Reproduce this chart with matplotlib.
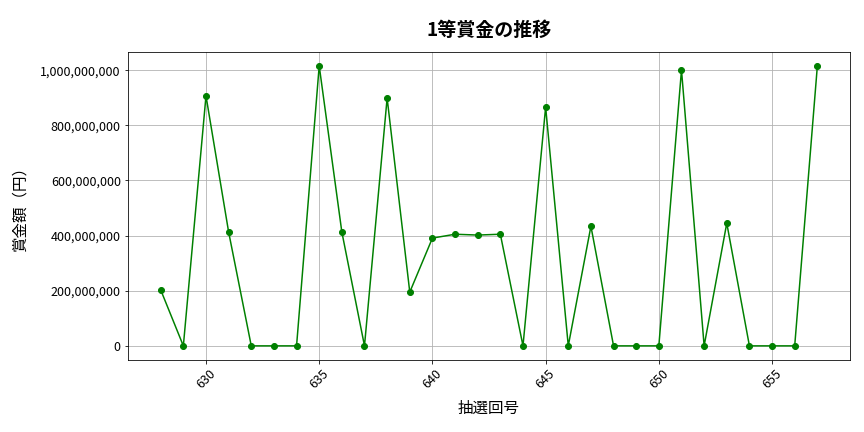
import matplotlib
matplotlib.use("Agg")
import matplotlib.pyplot as plt
from matplotlib.ticker import FuncFormatter

plt.rcParams['font.family'] = ['Noto Sans CJK JP', 'DejaVu Sans']

# 抽選回 and 1等賞金
draws = list(range(628, 658))
prizes = [
    203000000, 0, 907000000, 413000000, 0, 0, 0, 1016000000, 413000000, 0,
    899000000, 195000000, 391000000, 405000000, 402000000, 405000000, 0, 866000000, 0, 434000000,
    0, 0, 0, 1001000000, 0, 445000000, 0, 0, 0, 1015000000,
]

fig, ax = plt.subplots(figsize=(12, 6), dpi=72)
ax.plot(draws, prizes, marker='o', color='green', linewidth=1.5, markersize=6)

ax.set_title('1等賞金の推移', fontsize=19, fontweight='bold', pad=16)
ax.set_xlabel('抽選回号', fontsize=15.5, labelpad=9)
ax.set_ylabel('賞金額（円）', fontsize=15.5, labelpad=12)
ax.yaxis.set_major_formatter(FuncFormatter(lambda v, p: f'{int(v):,}'))
ax.tick_params(axis='both', labelsize=12.5)
plt.setp(ax.get_xticklabels(), rotation=45)
ax.grid(True, color='#b0b0b0', linewidth=0.8)

fig.subplots_adjust(left=0.148, right=0.984, top=0.88, bottom=0.167)
fig.savefig('out.png')
